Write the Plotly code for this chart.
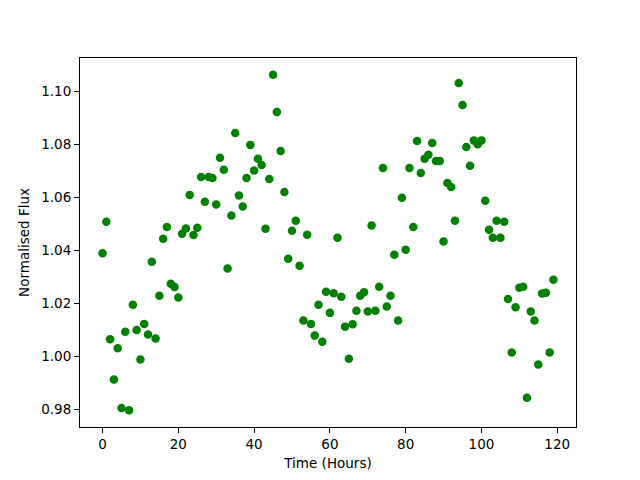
import plotly.graph_objects as go

hours = list(range(120))
flux = [
    1.0389, 1.0508, 1.0064, 0.9912, 1.0030, 0.9804, 1.0093, 0.9796, 1.0195, 1.0099,
    0.9988, 1.0122, 1.0082, 1.0357, 1.0067, 1.0229, 1.0444, 1.0489, 1.0274, 1.0262,
    1.0222, 1.0463, 1.0483, 1.0610, 1.0458, 1.0486, 1.0678, 1.0584, 1.0678, 1.0674,
    1.0574, 1.0750, 1.0705, 1.0332, 1.0532, 1.0844, 1.0608, 1.0566, 1.0674, 1.0799,
    1.0702, 1.0747, 1.0723, 1.0482, 1.0670, 1.1064, 1.0923, 1.0776, 1.0621, 1.0369,
    1.0474, 1.0512, 1.0342, 1.0135, 1.0459, 1.0122, 1.0078, 1.0195, 1.0055, 1.0244,
    1.0164, 1.0238, 1.0448, 1.0225, 1.0112, 0.9991, 1.0121, 1.0172, 1.0229, 1.0242,
    1.0169, 1.0494, 1.0172, 1.0263, 1.0712, 1.0188, 1.0229, 1.0384, 1.0135, 1.0599,
    1.0403, 1.0712, 1.0489, 1.0814, 1.0693, 1.0747, 1.0762, 1.0806, 1.0738, 1.0738,
    1.0434, 1.0655, 1.0640, 1.0512, 1.1033, 1.0950, 1.0791, 1.0720, 1.0816, 1.0801,
    1.0816, 1.0588, 1.0478, 1.0448, 1.0512, 1.0448, 1.0508, 1.0216, 1.0014, 1.0185,
    1.0259, 1.0263, 0.9843, 1.0169, 1.0135, 0.9969, 1.0237, 1.0240, 1.0014, 1.0289,
]
x_ticks = [0, 20, 40, 60, 80, 100, 120]
y_ticks = [0.98, 1.00, 1.02, 1.04, 1.06, 1.08, 1.10]

fig = go.Figure(go.Scatter(
    x=hours, y=flux, mode="markers",
    marker=dict(color="#008000", size=8.5, line=dict(width=0)),
))

font = dict(family="DejaVu Sans", size=13.5, color="black")
axis_common = dict(
    showgrid=False, zeroline=False, showline=True, linecolor="black", linewidth=1,
    mirror=True, ticks="outside", ticklen=5, tickwidth=1, tickcolor="black",
    tickfont=font,
)
xmin, xmax = min(hours), max(hours)
ymin, ymax = min(flux), max(flux)
fig.update_xaxes(range=[xmin - 0.05 * (xmax - xmin), xmax + 0.05 * (xmax - xmin)],
                 tickvals=x_ticks, title=dict(text="Time (Hours)", font=font, standoff=7),
                 **axis_common)
fig.update_yaxes(range=[ymin - 0.05 * (ymax - ymin), ymax + 0.05 * (ymax - ymin)],
                 tickvals=y_ticks, tickformat=".2f",
                 title=dict(text="Normalised Flux", font=font, standoff=8),
                 **axis_common)
fig.update_layout(
    width=640, height=480, margin=dict(l=80, r=64, t=58, b=53),
    paper_bgcolor="white", plot_bgcolor="white", showlegend=False, font=font,
)
fig.write_html("out.html", config={"displayModeBar": False},
               post_script="document.body.style.margin='0';document.body.style.overflow='hidden';")
